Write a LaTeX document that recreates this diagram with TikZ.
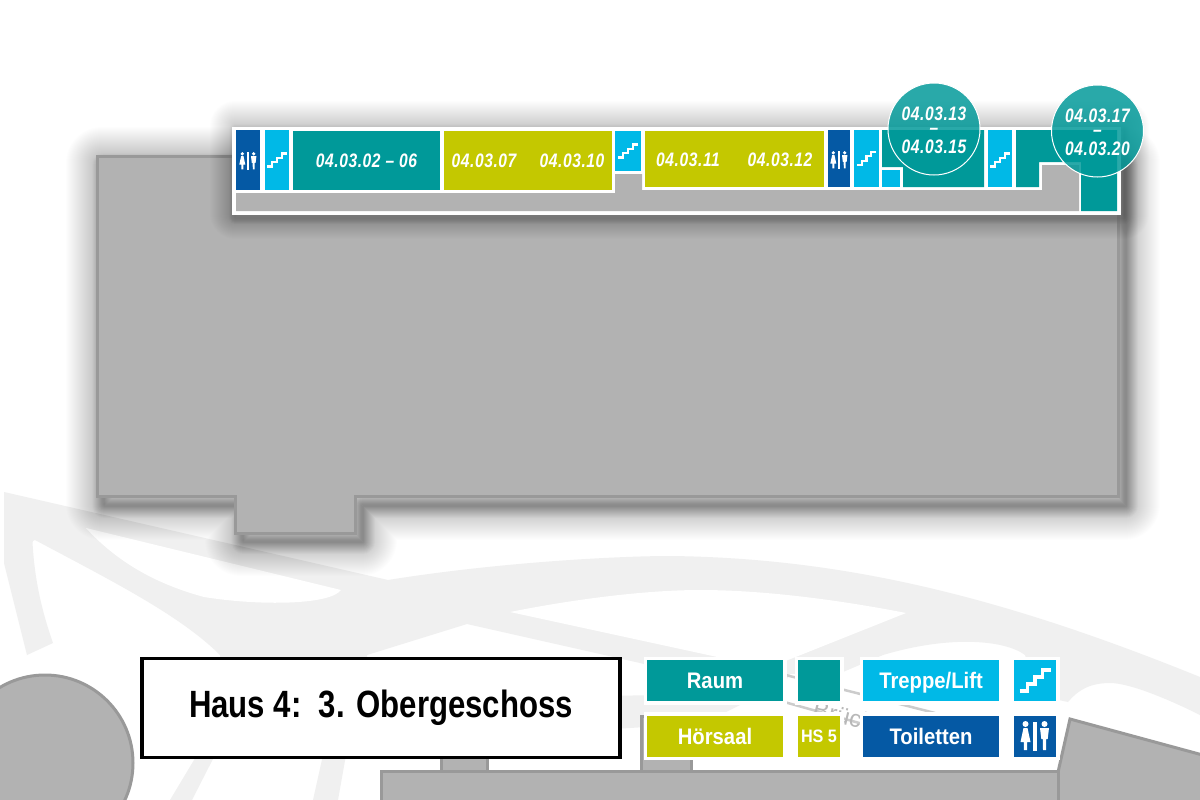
\documentclass[tikz,border=0pt]{standalone}
\usepackage{fontspec}
\setmainfont{Liberation Sans}
\newfontfamily\raumfont[FakeStretch=0.8,LetterSpace=3]{Liberation Sans}
\newfontfamily\legendfont[FakeStretch=0.9]{Liberation Sans}
\newfontfamily\titelfont[FakeStretch=0.82]{Liberation Sans}
\usepackage{xcolor}
\usetikzlibrary{positioning, shapes, shapes.geometric, arrows.meta, calc}
\definecolor{raumteal}{HTML}{009999}
\definecolor{hoersaalgelb}{HTML}{C4C800}
\definecolor{treppeblau}{HTML}{00B9E7}
\definecolor{wcblau}{HTML}{0559A4}
\definecolor{hausgrau}{HTML}{B2B2B2}
\definecolor{randgrau}{HTML}{999999}
\definecolor{wegegrau}{HTML}{F0F0F0}
\newcommand{\treppeicon}[3]{
    \draw[white, line width=#3*3.4pt, miter limit=10, shift={(#1,#2)}, scale=#3]
        (-15.5,10.5) -- (-7.5,10.5) -- (-7.5,3.5) -- (0,3.5) -- (0,-3.5) -- (7.5,-3.5) -- (7.5,-10.5) -- (15.5,-10.5);
}
\newcommand{\wcicon}[3]{
    \begin{scope}[shift={(#1,#2)}, scale=#3]
        \fill[white] (-1.7,-14.5) rectangle (1.7,14.5);
        \fill[white] (-9.5,-12) circle (3);
        \fill[white] (-11.5,-8) -- (-7.5,-8) -- (-4.5,6) -- (-7.8,6) -- (-7.8,14) -- (-11.2,14) -- (-11.2,6) -- (-14.5,6) -- cycle;
        \fill[white] (9.5,-12) circle (3);
        \fill[white] (5,-8) -- (14,-8) -- (12.7,3) -- (11.2,3) -- (11,14) -- (8,14) -- (7.8,3) -- (6.3,3) -- cycle;
    \end{scope}
}
\begin{document}
\begin{tikzpicture}[
    x=1pt, y=-1pt,
    haus/.style={fill=hausgrau, draw=randgrau, line width=3pt, line join=miter},
    raum/.style={rectangle, fill=raumteal, inner sep=0pt, outer sep=0pt, text=white, font=\raumfont\bfseries\itshape\fontsize{19.5}{22}\selectfont},
    hoersaal/.style={raum, fill=hoersaalgelb},
    treppe/.style={raum, fill=treppeblau},
    wc/.style={raum, fill=wcblau},
    raumtext/.style={text=white, inner sep=0pt, font=\raumfont\bfseries\itshape\fontsize{19.5}{22}\selectfont},
    rund/.style={circle, minimum size=92pt, inner sep=0pt, fill=raumteal, fill opacity=0.84, draw=white, draw opacity=1, line width=1pt},
    legende/.style={rectangle, inner sep=0pt, outer sep=0pt, text=white, minimum height=41pt, text height=16pt, text depth=0pt, preaction={draw=white, line width=7pt}, font=\legendfont\bfseries\fontsize{22.5}{25}\selectfont},
    bruecke/.style={draw=black!20, line width=2.5pt},
    schatten/.style={draw=black, opacity=0.009, line join=round},
]
    \useasboundingbox (0,0) rectangle (1200,800);
    \clip (0,0) rectangle (1200,800);
    \fill[white] (0,0) rectangle (1200,800);

    % wege
    \fill[wegegrau] (4,492) -- (388,580) .. controls (500,562) and (620,556) .. (670,556)
        .. controls (850,558) and (1010,600) .. (1200,677) -- (1200,715)
        .. controls (1170,700) and (1130,683) .. (1110,683) .. controls (1090,683) and (1078,690) .. (1068,702)
        -- (1040,696) -- (1025,655) .. controls (1005,640) and (950,635) .. (883,655)
        -- (843,672) -- (790,674) -- (780,690) -- (703,680) -- (640,663) -- (467,624) -- (367,655)
        -- (367,700) -- (220,700) -- (220,655) .. controls (180,615) and (110,580) .. (35,540)
        .. controls (31,540) and (33,545) .. (33,550) .. controls (36,590) and (45,620) .. (53,643)
        -- (27,655) -- (4,563) -- cycle;
    \fill[white] (86,528) -- (341,590) .. controls (330,605) and (260,606) .. (204,597)
        .. controls (160,585) and (120,565) .. (86,528);
    \fill[white] (510,612) .. controls (580,598) and (650,590) .. (700,590)
        .. controls (770,590) and (850,602) .. (906,613) -- (768,668) -- cycle;
    \fill[wegegrau] (610,696) -- (700,694) -- (740,705) -- (726,712) .. controls (700,722) and (660,727) .. (610,729) -- cycle;
    \fill[wegegrau] (197,755) -- (215,755) -- (192,800) -- (170,800) -- cycle;
    \fill[wegegrau] (323,755) -- (346,755) -- (338,800) -- (313,800) -- cycle;

    % brueckenlinien
    \draw[bruecke] (770,671) -- (935,713);
    \draw[bruecke] (770,698) -- (870,726);
    \node[text=black!28, rotate=-14, font=\fontsize{24}{26}\selectfont] (brueckentext) at (850,717) {Brücke};

    % nachbarhaeuser
    \draw[haus] (45,763) circle (88);
    \draw[haus] (441.5,790) rectangle (487.5,757);
    \draw[haus] (641.5,790) rectangle (691.5,716);
    \draw[haus] (1054,790) -- (1070,719) -- (1210,757) -- (1210,810) -- (1054,810) -- cycle;
    \draw[haus] (381,810) -- (381,771) -- (1058,771) -- (1058,810);

    % hauptgebaeude
    \foreach \breite in {2,4,...,72}
        \draw[schatten, line width=\breite pt, shift={(6,7)}] (96,156) -- (1118,156) -- (1118,497) -- (355,497) -- (355,533) -- (235,533) -- (235,497) -- (96,497) -- cycle;
    \foreach \breite in {1,2,...,24}
        \draw[schatten, line width=\breite pt, shift={(8,9)}] (96,156) -- (1118,156) -- (1118,497) -- (355,497) -- (355,533) -- (235,533) -- (235,497) -- (96,497) -- cycle;
    \draw[haus] (97,156) -- (1118,156) -- (1118,496.5) -- (355,496.5) -- (355,533) -- (235,533) -- (235,496.5) -- (97,496.5) -- cycle;

    % 3. obergeschoss
    \foreach \breite in {2,4,...,50}
        \draw[schatten, line width=\breite pt, shift={(3,-1)}] (232,127) rectangle (1121,215);
    \foreach \breite in {1,2,...,12}
        \draw[schatten, line width=\breite pt, shift={(3,3)}] (232,127) rectangle (1121,215);
    \fill[white] (232,127) rectangle (1121,215);
    \fill[hausgrau] (236,193) -- (615,193) -- (615,174) -- (642,174) -- (642,190) -- (1042,190) -- (1042,165) -- (1079,165) -- (1079,211) -- (236,211) -- cycle;

    \node[wc, minimum width=24pt, minimum height=60pt] (wc1) at (248,160) {};
    \node[treppe, minimum width=24pt, minimum height=60pt] (treppe1) at (277,160) {};
    \node[raum, minimum width=147pt, minimum height=59pt] (raum0206) at (366.5,160.5) {04.03.02 – 06};
    \node[hoersaal, minimum width=168pt, minimum height=59pt] (hs0710) at (527.7,160.5) {};
    \node[raumtext] (t07) at (484,160.5) {04.03.07};
    \node[raumtext] (t10) at (572,160.5) {04.03.10};
    \node[treppe, minimum width=26pt, minimum height=40pt] (treppe2) at (628,151) {};
    \node[hoersaal, minimum width=179pt, minimum height=56pt] (hs1112) at (734.5,159) {};
    \node[raumtext] (t11) at (688,159.5) {04.03.11};
    \node[raumtext] (t12) at (780,159.5) {04.03.12};
    \node[wc, minimum width=22pt, minimum height=57pt] (wc2) at (839,158.5) {};
    \node[treppe, minimum width=25pt, minimum height=57pt] (treppe3) at (866.5,158.5) {};
    \fill[raumteal] (882,130) -- (984,130) -- (984,187) -- (903,187) -- (903,167) -- (882,167) -- cycle;
    \node[treppe, minimum width=18pt, minimum height=17pt] (treppe4) at (891,178.5) {};
    \node[treppe, minimum width=24pt, minimum height=57pt] (treppe5) at (1000,158.5) {};
    \fill[raumteal] (1016,130) -- (1117,130) -- (1117,211) -- (1081,211) -- (1081,162) -- (1039,162) -- (1039,187) -- (1016,187) -- cycle;

    \wcicon{248}{161}{0.6}
    \treppeicon{277}{160}{0.62}
    \treppeicon{628}{151}{0.62}
    \wcicon{839}{160}{0.6}
    \treppeicon{866.5}{158.5}{0.62}
    \treppeicon{1000}{160}{0.62}

    \node[rund] (kreis13) at (934,129) {};
    \node[raumtext] (t13) at (934,113.7) {04.03.13};
    \node[raumtext] (s13) at (934,131) {–};
    \node[raumtext] (t15) at (934,146.7) {04.03.15};
    \node[rund] (kreis17) at (1097.5,131) {};
    \node[raumtext] (t17) at (1097.5,115.7) {04.03.17};
    \node[raumtext] (s17) at (1097.5,133) {–};
    \node[raumtext] (t20) at (1097.5,148.7) {04.03.20};

    % titel
    \node[rectangle, fill=white, draw=black, line width=3.5pt, minimum width=478pt, minimum height=99pt, inner sep=0pt, font=\titelfont\bfseries\fontsize{38}{42}\selectfont] (titel) at (381,708) {Haus 4:\ \ 3. Obergeschoss};

    % legende
    \node[legende, fill=raumteal, minimum width=136pt] (lraum) at (715,680.5) {Raum};
    \node[legende, fill=raumteal, minimum width=42pt] (lraumq) at (819,680.5) {};
    \node[legende, fill=treppeblau, minimum width=136pt] (ltreppe) at (931,680.5) {Treppe/Lift};
    \node[legende, fill=treppeblau, minimum width=42pt] (ltreppeq) at (1035,680.5) {};
    \node[legende, fill=hoersaalgelb, minimum width=136pt] (lhs) at (715,736) {Hörsaal};
    \node[legende, fill=hoersaalgelb, minimum width=42pt, text height=13pt, font=\legendfont\bfseries\fontsize{18}{20}\selectfont] (lhsq) at (819,736) {HS 5};
    \node[legende, fill=wcblau, minimum width=136pt] (lwc) at (931,736) {Toiletten};
    \node[legende, fill=wcblau, minimum width=42pt] (lwcq) at (1035,736) {};
    \treppeicon{1035}{680.5}{1}
    \wcicon{1035}{736}{1}
\end{tikzpicture}
\end{document}
